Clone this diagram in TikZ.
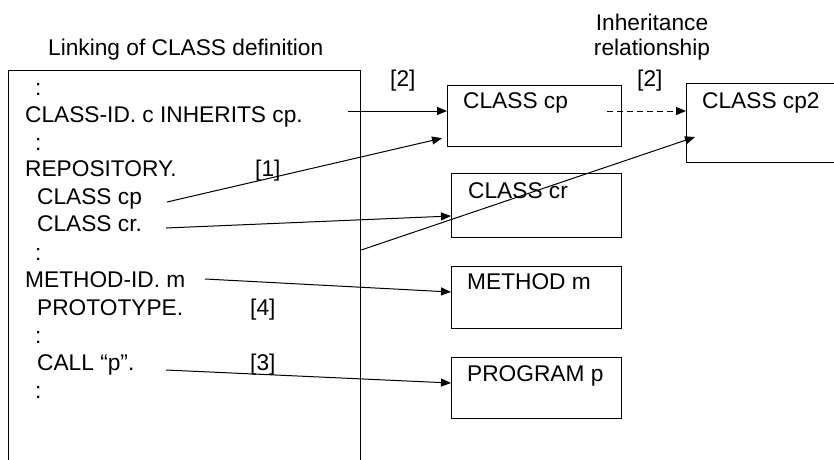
\documentclass[tikz,border=0pt]{standalone}
\usepackage{fontspec}
\setmainfont{Liberation Sans}
\usetikzlibrary{arrows.meta,calc}

\tikzset{
  codeln/.style={anchor=base west, inner sep=0pt},
  refbox/.style={draw, line width=1.2pt, anchor=north west, minimum width=170pt, minimum height=61pt, inner sep=0pt},
  link/.style={line width=1pt, -{Triangle[length=10pt,width=8pt]}},
}

\begin{document}
\begin{tikzpicture}[x=1pt,y=-1pt, every node/.style={font=\fontsize{22.7}{25}\selectfont}]
    \useasboundingbox (0,0) rectangle (834,459);

    % Definition of class c
    \node[codeln] (title) at (48,55) {Linking of CLASS definition};
    \node[draw, line width=1.2pt, anchor=north west, minimum width=352pt, minimum height=420pt, inner sep=0pt] (def) at (8,70) {};

    \node[codeln] (dots1) at (35,95) {:};
    \node[codeln] (cid) at (25,122) {CLASS-ID. c INHERITS cp.};
    \node[codeln] (dots2) at (35,150) {:};
    \node[codeln] (repo) at (25,176) {REPOSITORY.};
    \node[codeln] (ref1) at (255,176) {[1]};
    \node[codeln] (ccp) at (37,204) {CLASS cp};
    \node[codeln] (ccr) at (37,231) {CLASS cr.};
    \node[codeln] (dots3) at (35,260) {:};
    \node[codeln] (mid) at (25,287) {METHOD-ID. m};
    \node[codeln] (proto) at (37,315) {PROTOTYPE.};
    \node[codeln] (ref4) at (250,315) {[4]};
    \node[codeln] (dots4) at (35,343) {:};
    \node[codeln] (call) at (37,370) {CALL “p”.};
    \node[codeln] (ref3) at (250,370) {[3]};
    \node[codeln] (dots5) at (35,398) {:};

    % Referenced classes, method, program
    \node[refbox, minimum width=174pt] (cp) at (447,85) {};
    \node[refbox, minimum width=170pt, minimum height=79pt] (cp2) at (686,83) {};
    \node[refbox, minimum height=64pt] (cr) at (451,173) {};
    \node[refbox, minimum height=62pt] (meth) at (451,266) {};
    \node[refbox] (prog) at (451,357) {};

    \node[codeln] (cplbl) at (463,108) {CLASS cp};
    \node[codeln] (cp2lbl) at (702,108) {CLASS cp2};
    \node[codeln] (crlbl) at (468,198) {CLASS cr};
    \node[codeln] (methlbl) at (467,289) {METHOD m};
    \node[codeln] (proglbl) at (467,381) {PROGRAM p};

    \node[codeln] (ref2a) at (390,86) {[2]};
    \node[codeln] (ref2b) at (637,86) {[2]};
    \node[anchor=base, inner sep=0pt] (inh) at (652,30) {Inheritance};
    \node[anchor=base, inner sep=0pt] (rel) at (652,55) {relationship};

    % Links
    \coordinate (s1) at (348,111);
    \coordinate (s2) at (607,111);
    \coordinate (s3) at (167,202);
    \coordinate (s4) at (166,228);
    \coordinate (s5) at ($(def.north east)+(0,180)$);
    \coordinate (s6) at (205,279);
    \coordinate (s7) at (166,370);

    \draw[link] (s1) -- (s1 -| cp.west);
    \draw[link, dash pattern=on 6pt off 4pt] (s2) -- (s2 -| cp2.west);
    \draw[link] (s3) -- ($(cp.south west)+(-5,-9)$);
    \draw[link] (s4) -- ($(cr.north west)+(0,43)$);
    \draw[link] (s5) -- ($(cp2.north west)+(9,54)$);
    \draw[link] (s6) -- ($(meth.north west)+(0,26)$);
    \draw[link] (s7) -- ($(prog.north west)+(0,26)$);
\end{tikzpicture}
\end{document}
